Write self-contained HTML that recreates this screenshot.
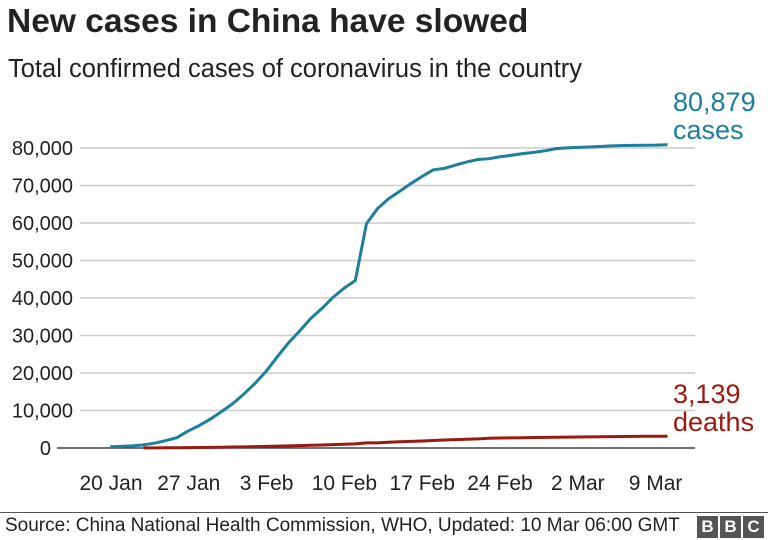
<!DOCTYPE html><html><head><style>
body{margin:0;width:768px;height:540px;background:#fff;font-family:"Liberation Sans",sans-serif;overflow:hidden;position:relative}
.t{position:absolute;white-space:nowrap}
</style></head><body>
<div class="t" style="left:7px;top:3px;font-size:33.5px;font-weight:bold;color:#222">New cases in China have slowed</div>
<div class="t" style="left:8px;top:55px;font-size:25.5px;color:#222">Total confirmed cases of coronavirus in the country</div>
<svg id="s" width="768" height="540" style="position:absolute;left:0;top:0" font-family="Liberation Sans, sans-serif"></svg>
<div class="t" style="left:673px;top:88px;font-size:27px;color:#1d7e9d;line-height:28px">80,879<br>cases</div>
<div class="t" style="left:673px;top:380px;font-size:27px;color:#9b1a10;line-height:28px">3,139<br>deaths</div>
<div style="position:absolute;left:0;top:512px;width:768px;height:1px;background:#555"></div>
<div class="t" style="left:5px;top:515px;font-size:19px;color:#222">Source: China National Health Commission, WHO, Updated: 10 Mar 06:00 GMT</div>
<div style="position:absolute;left:697px;top:516px;display:flex;gap:2px">
<span style="width:21px;height:22px;background:#555;color:#fff;font-weight:bold;font-size:17px;text-align:center;line-height:22px">B</span>
<span style="width:21px;height:22px;background:#555;color:#fff;font-weight:bold;font-size:17px;text-align:center;line-height:22px">B</span>
<span style="width:21px;height:22px;background:#555;color:#fff;font-weight:bold;font-size:17px;text-align:center;line-height:22px">C</span></div>
<script>
var s=document.getElementById('s'),h='';
function Y(v){return 448-v*0.00375}
for(var i=1;i<=8;i++){var y=Y(i*10000);h+='<line x1="80" x2="695" y1="'+y+'" y2="'+y+'" stroke="#ccc" stroke-width="1.5"/>';
h+='<text x="73" y="'+(y+7)+'" font-size="20" fill="#222" text-anchor="end">'+(i*10)+',000</text>';}
h+='<line x1="57" x2="695" y1="448" y2="448" stroke="#444" stroke-width="1.5"/><text x="51" y="455" font-size="20" fill="#222" text-anchor="end">0</text>';
var d=['20 Jan','27 Jan','3 Feb','10 Feb','17 Feb','24 Feb','2 Mar','9 Mar'];
for(var i=0;i<8;i++)h+='<text x="'+(111+i*77.8)+'" y="490" font-size="21" fill="#222" text-anchor="middle">'+d[i]+'</text>';
var c=[291,440,571,830,1287,1975,2744,4515,5974,7711,9692,11791,14380,17205,20438,24324,28018,31161,34546,37198,40171,42638,44653,59804,63851,66492,68500,70548,72436,74185,74576,75465,76288,76936,77150,77658,78064,78497,78824,79251,79824,80026,80151,80270,80409,80552,80651,80695,80735,80754,80879];
var p=c.map(function(v,i){return (110+i*11.15)+','+Y(v)}).join(' ');
h+='<polyline points="'+p+'" fill="none" stroke="#1d7e9d" stroke-width="3" stroke-linejoin="round"/>';
var de=[25,41,56,80,106,132,170,213,259,304,361,425,490,563,636,722,811,908,1016,1113,1368,1380,1523,1665,1770,1868,2004,2118,2236,2345,2442,2592,2663,2715,2744,2788,2835,2870,2912,2943,2981,3012,3042,3070,3097,3119,3136,3139];
p=de.map(function(v,i){return (110+(i+3)*11.15)+','+Y(v)}).join(' ');
h+='<polyline points="'+p+'" fill="none" stroke="#9b1a10" stroke-width="3" stroke-linejoin="round"/>';
s.innerHTML=h;
</script>
</body></html>
